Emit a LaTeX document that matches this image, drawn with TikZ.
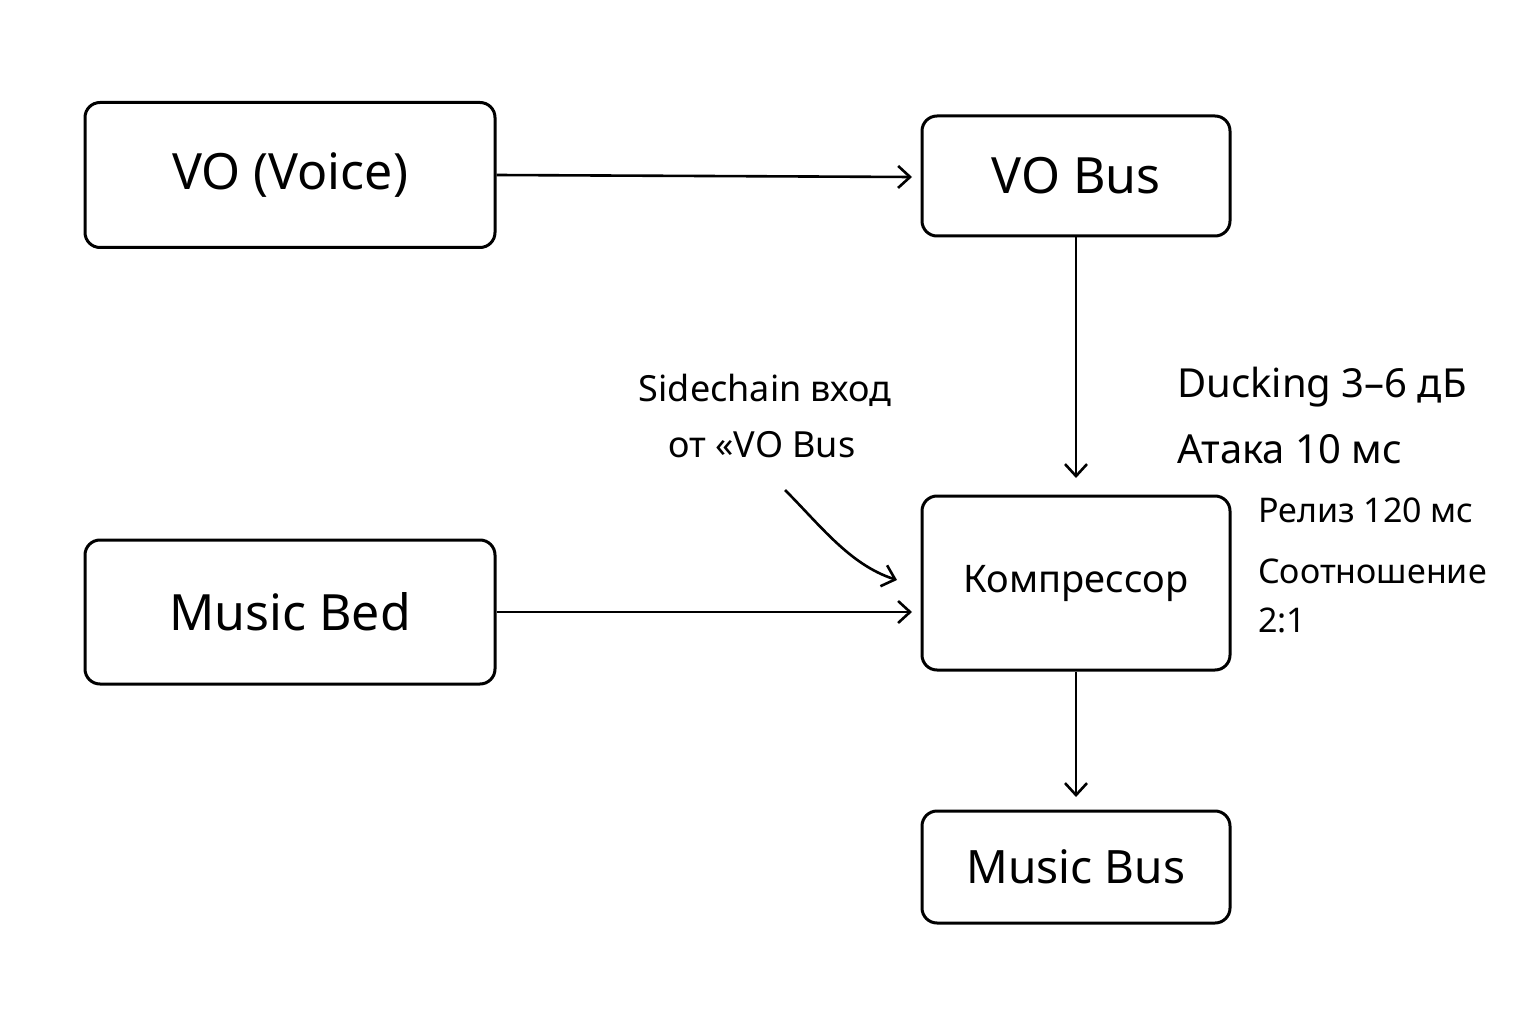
\documentclass[tikz,border=0pt]{standalone}
\usepackage{fontspec}
\setmainfont{Noto Sans}
\usetikzlibrary{arrows.meta}
\begin{document}
\begin{tikzpicture}[x=1pt,y=-1pt,
  box/.style={draw,line width=3pt,rounded corners=15pt,inner sep=0pt},
  arr/.style={line width=2.6pt,-{Straight Barb[length=12pt,width=22pt,line width=2.6pt]}},
  lbl/.style={font=\fontsize{36}{40}\selectfont,inner sep=0pt}]
\useasboundingbox (0,0) rectangle (1536,1024);
\fill[white] (0,0) rectangle (1536,1024);
\node[box,minimum width=410pt,minimum height=145pt,font=\fontsize{50}{56}\selectfont] (voice) at (290,175) {VO (Voice)};
\node[box,minimum width=308pt,minimum height=120pt,font=\fontsize{50}{56}\selectfont] (vobus) at (1076,176) {VO Bus};
\node[box,minimum width=308pt,minimum height=174pt,font=\fontsize{38}{42}\selectfont] (comp) at (1076,583) {Компрессор};
\node[box,minimum width=410pt,minimum height=144pt,font=\fontsize{50}{56}\selectfont] (bed) at (290,612) {Music Bed};
\node[box,minimum width=308pt,minimum height=112pt,font=\fontsize{46}{52}\selectfont] (mbus) at (1076,867) {Music Bus};
\coordinate (t1) at (912,177);
\coordinate (t2) at (1076,478);
\coordinate (t3) at (912,612);
\coordinate (t4) at (1076,797);
\coordinate (s0) at (785,490);
\coordinate (s1) at (897,580);
\draw[arr] (voice.east) -- (t1);
\draw[arr] (vobus.south) -- (t2);
\draw[arr] (bed.east) -- (t3);
\draw[arr] (comp.south) -- (t4);
\draw[arr] (s0) .. controls (820,525) and (850,565) .. (s1);
\node[lbl] (sc1) at (765,390) {Sidechain вход};
\node[lbl] (sc2) at (762,445) {от «VO Bus};
\node[lbl,anchor=west,font=\fontsize{40}{44}\selectfont] (d1) at (1177,387) {Ducking 3–6 дБ};
\node[lbl,anchor=west,font=\fontsize{40}{44}\selectfont] (d2) at (1177,449) {Атака 10 мс};
\node[lbl,anchor=west,font=\fontsize{34}{38}\selectfont] (d3) at (1258,510) {Релиз 120 мс};
\node[lbl,anchor=west,font=\fontsize{34}{38}\selectfont] (d4) at (1258,571) {Соотношение};
\node[lbl,anchor=west,font=\fontsize{34}{38}\selectfont] (d5) at (1258,620) {2:1};
\end{tikzpicture}
\end{document}
